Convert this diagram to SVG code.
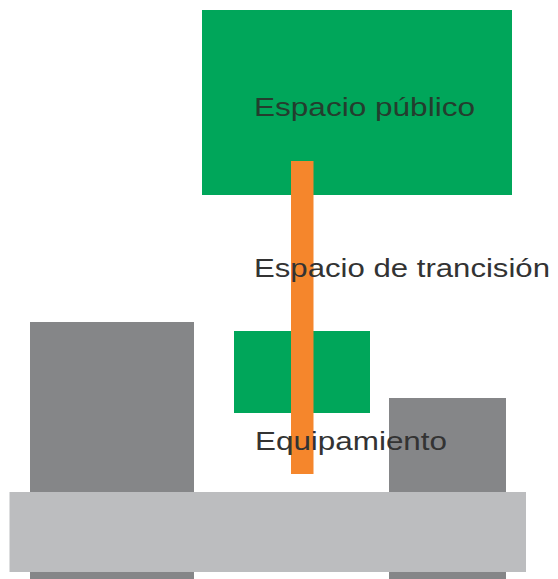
<svg xmlns="http://www.w3.org/2000/svg" width="558" height="579" viewBox="0 0 558 579">
  <style>
    .green { fill: #00a65a; }
    .dark { fill: #858688; }
    .light { fill: #bcbdbf; }
    .bar { fill: #f5862c; }
    .lbl { font-family: "Liberation Sans", Arial, sans-serif; font-size: 26px; fill: #333333; }
    .lbl-on-green { fill: #243d2e; }
  </style>
  <rect width="558" height="579" fill="#ffffff"/>
  <g id="espacio-publico">
    <rect class="green" x="202" y="10" width="310" height="185"/>
    <text class="lbl lbl-on-green" x="254" y="116" textLength="221" lengthAdjust="spacingAndGlyphs">Espacio público</text>
  </g>
  <g id="edificio-izquierdo">
    <rect class="dark" x="30" y="322" width="164" height="257"/>
  </g>
  <g id="edificio-derecho">
    <rect class="dark" x="389" y="398" width="117" height="181"/>
  </g>
  <g id="equipamiento-box">
    <rect class="green" x="234" y="331" width="136" height="82"/>
  </g>
  <g id="connectors">
    <rect class="bar" x="291" y="161" width="22.5" height="313"/>
  </g>
  <g id="espacio-transicion">
    <text class="lbl" x="254" y="277" textLength="296" lengthAdjust="spacingAndGlyphs">Espacio de trancisión</text>
  </g>
  <g id="equipamiento">
    <text class="lbl" x="255" y="450" textLength="192" lengthAdjust="spacingAndGlyphs">Equipamiento</text>
  </g>
  <g id="calle">
    <rect class="light" x="9.5" y="492" width="516.5" height="80"/>
  </g>
</svg>
